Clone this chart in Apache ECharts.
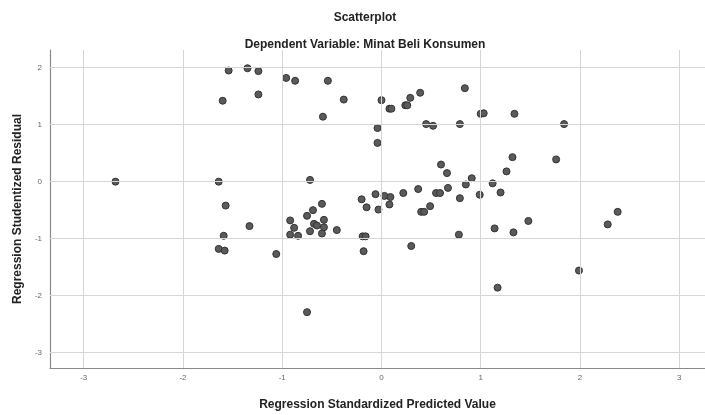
<!DOCTYPE html>
<html>
<head>
<meta charset="utf-8">
<script src="https://cdn.jsdelivr.net/npm/echarts@6/dist/echarts.min.js"></script>
<style>html,body{margin:0;padding:0;background:#fff;overflow:hidden;}#c{width:705px;height:415px;}</style>
</head>
<body>
<div id="c"></div>
<script>
// Regression Standardized Predicted Value (x) and Studentized Residual (y)
var predicted = [
  -1.54,-1.35,-1.24,-0.96,-0.87,-0.54,-1.60,-1.24,-0.38,-0.59,
  0.00,0.08,0.10,0.24,0.26,0.29,0.39,0.84,1.00,1.03,
  0.45,0.52,0.79,-0.04,-0.04,1.34,1.84,
  1.32,1.76,1.26,1.12,1.20,0.99,1.48,1.14,1.33,2.38,2.28,1.99,1.17,
  0.60,0.66,0.91,0.85,0.79,0.67,0.55,0.59,0.37,0.22,0.03,0.09,0.08,-0.03,0.49,0.40,0.43,0.78,0.30,
  -0.06,-0.20,-0.15,
  -0.92,-0.88,-0.92,-0.84,-0.75,-0.69,-0.60,-0.68,-0.65,-0.58,-0.58,-0.72,-0.60,-0.45,-0.19,-0.16,-0.18,-0.75,
  -0.72,-2.68,-1.64,-1.57,-1.33,-1.59,-1.64,-1.58,-1.06
];
var residual = [
  1.95,1.99,1.94,1.82,1.77,1.77,1.42,1.53,1.44,1.14,
  1.43,1.28,1.28,1.34,1.34,1.47,1.56,1.64,1.19,1.20,
  1.01,0.98,1.01,0.94,0.68,1.19,1.01,
  0.43,0.39,0.18,-0.03,-0.19,-0.23,-0.69,-0.82,-0.89,-0.53,-0.75,-1.56,-1.86,
  0.30,0.15,0.06,-0.05,-0.29,-0.11,-0.20,-0.20,-0.13,-0.20,-0.25,-0.27,-0.40,-0.49,-0.43,-0.53,-0.53,-0.93,-1.13,
  -0.22,-0.31,-0.45,
  -0.68,-0.81,-0.93,-0.95,-0.60,-0.50,-0.39,-0.74,-0.77,-0.67,-0.80,-0.87,-0.91,-0.85,-0.96,-0.96,-1.22,-2.29,
  0.03,0.00,0.00,-0.42,-0.78,-0.95,-1.18,-1.21,-1.27
];
var xTicks = [-3,-2,-1,0,1,2,3];
var yTicks = [-3,-2,-1,0,1,2];
var titleText = 'Scatterplot';
var subtitleText = 'Dependent Variable: Minat Beli Konsumen';
var xTitle = 'Regression Standardized Predicted Value';
var yTitle = 'Regression Studentized Residual';

var points = predicted.map(function(v,i){ return [v, residual[i]]; });
var gridLines = [];
xTicks.forEach(function(t){ gridLines.push({xAxis: t}); });
yTicks.forEach(function(t){ gridLines.push({yAxis: t}); });

var font = 'Liberation Sans, Arial, sans-serif';
var chart = echarts.init(document.getElementById('c'), null, {renderer:'canvas', width: 705, height: 415});
chart.setOption({
  animation: false,
  backgroundColor: '#ffffff',
  title: [
    {text: titleText, left: 360, top: 7, textAlign: 'center',
     textStyle: {fontFamily: font, fontSize: 12, fontWeight: 'bold', color: '#222'}},
    {text: subtitleText, left: 360, top: 34, textAlign: 'center',
     textStyle: {fontFamily: font, fontSize: 12, fontWeight: 'bold', color: '#222'}}
  ],
  grid: {left: 50, top: 50, width: 655, height: 318, containLabel: false, outerBoundsMode: 'none'},
  xAxis: {
    type: 'value', min: -3.34, max: 3.26,
    name: xTitle, nameLocation: 'middle', nameGap: 31,
    nameTextStyle: {fontFamily: font, fontSize: 12, fontWeight: 'bold', color: '#222'},
    axisLine: {show: true, onZero: false, lineStyle: {color: '#8a8a8a', width: 1.2}},
    axisTick: {show: false},
    splitLine: {show: false},
    axisLabel: {customValues: xTicks, fontFamily: font, fontSize: 8, color: '#666', margin: 6}
  },
  yAxis: {
    type: 'value', min: -3.27, max: 2.31,
    name: yTitle, nameLocation: 'middle', nameGap: 26, nameRotate: 90,
    nameTextStyle: {fontFamily: font, fontSize: 12, fontWeight: 'bold', color: '#222'},
    axisLine: {show: true, onZero: false, lineStyle: {color: '#8a8a8a', width: 1.2}},
    axisTick: {show: false},
    splitLine: {show: false},
    axisLabel: {customValues: yTicks, fontFamily: font, fontSize: 8, color: '#666', margin: 8}
  },
  series: [
    {
      type: 'scatter', data: [], silent: true, z: 1,
      markLine: {
        silent: true, symbol: 'none', animation: false,
        label: {show: false},
        lineStyle: {color: '#d6d6d6', width: 1, type: 'solid'},
        data: gridLines
      }
    },
    {
      type: 'scatter', data: points, symbol: 'circle', symbolSize: 7, z: 3,
      itemStyle: {color: '#5a5a5a', borderColor: '#333', borderWidth: 1, opacity: 1}
    }
  ]
});
</script>
</body>
</html>
